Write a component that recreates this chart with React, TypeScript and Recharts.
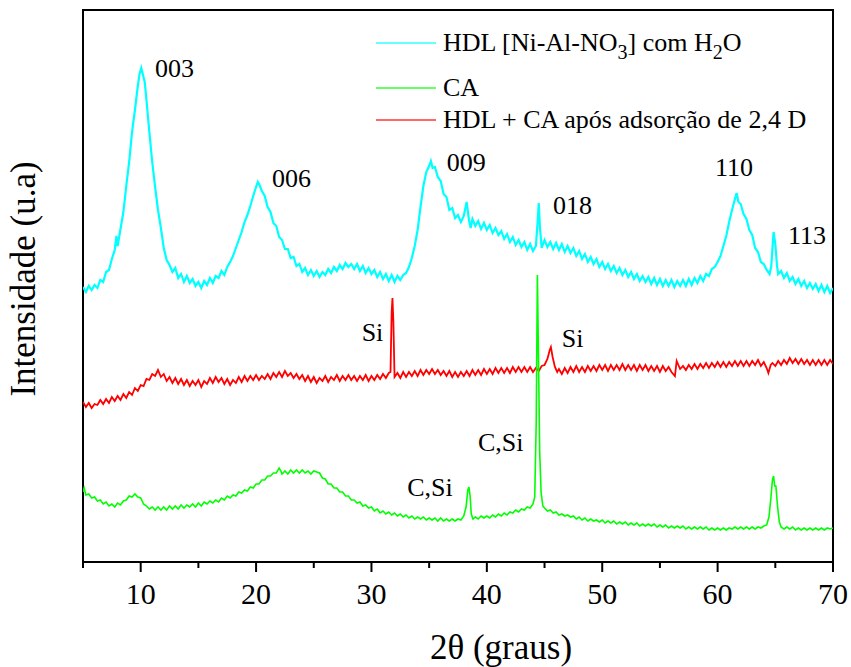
import React from 'react';
import { ComposedChart, Line, Scatter, XAxis, YAxis, ReferenceArea, Legend, Label } from 'recharts';

const FONT = '"Liberation Serif", "Times New Roman", serif';

// [2θ (graus), intensidade (u.a)]
const hdlPoints: [number, number][] = [
  [5.0, 275], [5.25, 270], [5.5, 276], [5.75, 272], [6.0, 277], [6.25, 274], [6.5, 282], [6.75, 280],
  [7.0, 290], [7.25, 292], [7.5, 303], [7.75, 312], [7.9, 326], [8.0, 316], [8.25, 333], [8.5, 350],
  [8.75, 376], [9.0, 400], [9.25, 430], [9.5, 452], [9.75, 476], [9.9, 488], [10.05, 494], [10.2, 487],
  [10.35, 480], [10.5, 462], [10.75, 430], [11.0, 400], [11.25, 375], [11.5, 352], [11.75, 334], [12.0, 314],
  [12.25, 302], [12.5, 297], [12.75, 290], [13.0, 294], [13.25, 284], [13.5, 288], [13.75, 280], [14.0, 286],
  [14.25, 279], [14.5, 283], [14.75, 276], [15.0, 280], [15.25, 274], [15.5, 281], [15.75, 277], [16.0, 284],
  [16.25, 279], [16.5, 286], [16.75, 284], [17.0, 291], [17.25, 287], [17.5, 295], [17.75, 300], [18.0, 306],
  [18.25, 314], [18.5, 322], [18.75, 330], [19.0, 340], [19.25, 347], [19.5, 356], [19.75, 366], [20.0, 375],
  [20.15, 380], [20.3, 377], [20.5, 371], [20.75, 366], [21.0, 355], [21.25, 350], [21.5, 339], [21.75, 336],
  [22.0, 325], [22.25, 322], [22.5, 313], [22.75, 313], [23.0, 304], [23.25, 305], [23.5, 296], [23.75, 298],
  [24.0, 290], [24.25, 294], [24.5, 287], [24.75, 292], [25.0, 286], [25.25, 291], [25.5, 285], [25.75, 290],
  [26.0, 287], [26.25, 293], [26.5, 289], [26.75, 295], [27.0, 291], [27.25, 297], [27.5, 293], [27.75, 299],
  [28.0, 295], [28.25, 298], [28.5, 293], [28.75, 298], [29.0, 291], [29.25, 296], [29.5, 289], [29.75, 294],
  [30.0, 288], [30.25, 292], [30.5, 285], [30.75, 290], [31.0, 283], [31.25, 288], [31.5, 281], [31.75, 287],
  [32.0, 280], [32.25, 286], [32.5, 282], [32.75, 287], [33.0, 289], [33.25, 295], [33.5, 304], [33.75, 316],
  [34.0, 332], [34.25, 355], [34.5, 376], [34.75, 390], [35.0, 396], [35.15, 401], [35.3, 394], [35.5, 395],
  [35.75, 385], [36.0, 381], [36.25, 368], [36.5, 365], [36.75, 352], [37.0, 354], [37.25, 344], [37.5, 347],
  [37.75, 340], [38.0, 346], [38.25, 360], [38.45, 342], [38.6, 334], [38.75, 343], [39.0, 336], [39.25, 341],
  [39.5, 333], [39.75, 339], [40.0, 332], [40.25, 337], [40.5, 329], [40.75, 334], [41.0, 327], [41.25, 331],
  [41.5, 323], [41.75, 328], [42.0, 320], [42.25, 325], [42.5, 317], [42.75, 322], [43.0, 315], [43.25, 320],
  [43.5, 312], [43.75, 318], [44.0, 311], [44.25, 316], [44.4, 340], [44.5, 359], [44.6, 335], [44.75, 314],
  [45.0, 322], [45.25, 315], [45.5, 320], [45.75, 313], [46.0, 319], [46.25, 312], [46.5, 318], [46.75, 310],
  [47.0, 316], [47.25, 309], [47.5, 314], [47.75, 306], [48.0, 311], [48.25, 303], [48.5, 308], [48.75, 300],
  [49.0, 305], [49.25, 298], [49.5, 303], [49.75, 295], [50.0, 300], [50.25, 293], [50.5, 298], [50.75, 291],
  [51.0, 296], [51.25, 289], [51.5, 294], [51.75, 287], [52.0, 292], [52.25, 285], [52.5, 290], [52.75, 283],
  [53.0, 288], [53.25, 281], [53.5, 286], [53.75, 280], [54.0, 285], [54.25, 278], [54.5, 284], [54.75, 277],
  [55.0, 283], [55.25, 276], [55.5, 282], [55.75, 276], [56.0, 282], [56.25, 275], [56.5, 281], [56.75, 276],
  [57.0, 282], [57.25, 276], [57.5, 283], [57.75, 277], [58.0, 284], [58.25, 279], [58.5, 286], [58.75, 281],
  [59.0, 288], [59.25, 286], [59.5, 293], [59.75, 295], [60.0, 300], [60.25, 306], [60.5, 316], [60.75, 326],
  [61.0, 340], [61.25, 352], [61.5, 363], [61.65, 369], [61.8, 360], [62.0, 358], [62.25, 348], [62.5, 343],
  [62.75, 332], [63.0, 327], [63.25, 314], [63.5, 310], [63.75, 300], [64.0, 298], [64.25, 292], [64.5, 288],
  [64.65, 296], [64.85, 330], [65.0, 318], [65.15, 296], [65.25, 288], [65.5, 291], [65.75, 284], [66.0, 289],
  [66.25, 281], [66.5, 285], [66.75, 278], [67.0, 283], [67.25, 276], [67.5, 281], [67.75, 274], [68.0, 279],
  [68.25, 273], [68.5, 278], [68.75, 271], [69.0, 277], [69.25, 270], [69.5, 276], [69.75, 269], [70.0, 274],
];

const caPoints: [number, number][] = [
  [5.0, 70], [5.1, 74], [5.25, 67], [5.5, 68], [5.75, 64], [6.0, 65], [6.25, 61], [6.5, 62],
  [6.75, 58], [7.0, 60], [7.25, 56], [7.5, 58], [7.75, 55], [8.0, 59], [8.25, 57], [8.5, 61],
  [8.75, 62], [9.0, 66], [9.25, 65], [9.5, 68], [9.75, 65], [10.0, 64], [10.25, 58], [10.5, 56],
  [10.75, 53], [11.0, 55], [11.25, 52], [11.5, 55], [11.75, 52], [12.0, 55], [12.25, 52], [12.5, 56],
  [12.75, 53], [13.0, 56], [13.25, 53], [13.5, 57], [13.75, 54], [14.0, 57], [14.25, 55], [14.5, 58],
  [14.75, 55], [15.0, 59], [15.25, 56], [15.5, 60], [15.75, 58], [16.0, 61], [16.25, 59], [16.5, 62],
  [16.75, 60], [17.0, 64], [17.25, 62], [17.5, 66], [17.75, 64], [18.0, 67], [18.25, 66], [18.5, 70],
  [18.75, 69], [19.0, 72], [19.25, 71], [19.5, 75], [19.75, 74], [20.0, 78], [20.25, 78], [20.5, 82],
  [20.75, 82], [21.0, 86], [21.25, 86], [21.5, 89], [21.75, 89], [22.0, 94], [22.15, 91], [22.25, 88],
  [22.5, 91], [22.75, 88], [23.0, 92], [23.25, 89], [23.5, 92], [23.75, 89], [24.0, 92], [24.25, 89],
  [24.5, 91], [24.75, 88], [25.0, 91], [25.25, 90], [25.5, 89], [25.75, 84], [26.0, 83], [26.25, 78],
  [26.5, 78], [26.75, 74], [27.0, 74], [27.25, 70], [27.5, 70], [27.75, 66], [28.0, 66], [28.25, 62],
  [28.5, 62], [28.75, 59], [29.0, 60], [29.25, 56], [29.5, 57], [29.75, 54], [30.0, 55], [30.25, 51],
  [30.5, 53], [30.75, 49], [31.0, 51], [31.25, 48], [31.5, 50], [31.75, 47], [32.0, 49], [32.25, 46],
  [32.5, 48], [32.75, 45], [33.0, 47], [33.25, 44], [33.5, 46], [33.75, 43], [34.0, 45], [34.25, 43],
  [34.5, 45], [34.75, 42], [35.0, 44], [35.25, 42], [35.5, 44], [35.75, 41], [36.0, 44], [36.25, 41],
  [36.5, 43], [36.75, 41], [37.0, 43], [37.25, 41], [37.5, 43], [37.75, 42], [38.0, 46], [38.2, 55],
  [38.35, 72], [38.45, 75], [38.55, 66], [38.65, 48], [38.8, 43], [39.0, 45], [39.25, 43], [39.5, 46],
  [39.75, 44], [40.0, 46], [40.25, 44], [40.5, 47], [40.75, 45], [41.0, 48], [41.25, 46], [41.5, 49],
  [41.75, 47], [42.0, 50], [42.25, 49], [42.5, 52], [42.75, 50], [43.0, 53], [43.25, 52], [43.5, 55],
  [43.75, 54], [44.0, 58], [44.15, 65], [44.28, 140], [44.38, 287], [44.48, 200], [44.58, 110], [44.7, 70],
  [44.85, 56], [45.0, 54], [45.25, 51], [45.5, 52], [45.75, 49], [46.0, 50], [46.25, 47], [46.5, 48],
  [46.75, 46], [47.0, 47], [47.25, 45], [47.5, 46], [47.75, 43], [48.0, 45], [48.25, 42], [48.5, 44],
  [48.75, 41], [49.0, 43], [49.25, 41], [49.5, 42], [49.75, 40], [50.0, 42], [50.25, 39], [50.5, 41],
  [50.75, 39], [51.0, 41], [51.25, 38], [51.5, 40], [51.75, 38], [52.0, 40], [52.25, 37], [52.5, 39],
  [52.75, 37], [53.0, 39], [53.25, 36], [53.5, 38], [53.75, 36], [54.0, 38], [54.25, 36], [54.5, 38],
  [54.75, 35], [55.0, 37], [55.25, 35], [55.5, 37], [55.75, 34], [56.0, 36], [56.25, 34], [56.5, 36],
  [56.75, 34], [57.0, 36], [57.25, 33], [57.5, 35], [57.75, 33], [58.0, 35], [58.25, 33], [58.5, 35],
  [58.75, 33], [59.0, 35], [59.25, 32], [59.5, 34], [59.75, 32], [60.0, 34], [60.25, 32], [60.5, 34],
  [60.75, 32], [61.0, 34], [61.25, 33], [61.5, 35], [61.75, 33], [62.0, 35], [62.25, 33], [62.5, 35],
  [62.75, 33], [63.0, 35], [63.25, 33], [63.5, 35], [63.75, 34], [64.0, 36], [64.25, 37], [64.45, 45],
  [64.6, 62], [64.75, 82], [64.85, 86], [64.95, 76], [65.05, 76], [65.2, 55], [65.35, 40], [65.5, 35],
  [65.75, 33], [66.0, 35], [66.25, 33], [66.5, 35], [66.75, 32], [67.0, 34], [67.25, 32], [67.5, 34],
  [67.75, 32], [68.0, 34], [68.25, 32], [68.5, 34], [68.75, 32], [69.0, 34], [69.25, 32], [69.5, 34],
  [69.75, 33], [70.0, 34],
];

const hdlCaPoints: [number, number][] = [
  [5.0, 160], [5.25, 155], [5.5, 159], [5.75, 154], [6.0, 158], [6.25, 157], [6.5, 162], [6.75, 158],
  [7.0, 163], [7.25, 159], [7.5, 165], [7.75, 161], [8.0, 166], [8.25, 162], [8.5, 168], [8.75, 164],
  [9.0, 170], [9.25, 167], [9.5, 174], [9.75, 171], [10.0, 177], [10.25, 176], [10.5, 183], [10.75, 182],
  [11.0, 188], [11.25, 186], [11.5, 192], [11.75, 185], [12.0, 188], [12.25, 181], [12.5, 185], [12.75, 179],
  [13.0, 184], [13.25, 178], [13.5, 183], [13.75, 177], [14.0, 182], [14.25, 176], [14.5, 181], [14.75, 177],
  [15.0, 182], [15.25, 175], [15.5, 181], [15.75, 178], [16.0, 184], [16.25, 179], [16.5, 185], [16.75, 180],
  [17.0, 184], [17.25, 178], [17.5, 183], [17.75, 177], [18.0, 182], [18.25, 179], [18.5, 185], [18.75, 180],
  [19.0, 186], [19.25, 181], [19.5, 186], [19.75, 182], [20.0, 187], [20.25, 182], [20.5, 186], [20.75, 183],
  [21.0, 188], [21.25, 183], [21.5, 189], [21.75, 185], [22.0, 190], [22.25, 185], [22.5, 191], [22.75, 186],
  [23.0, 189], [23.25, 184], [23.5, 188], [23.75, 183], [24.0, 187], [24.25, 181], [24.5, 186], [24.75, 180],
  [25.0, 185], [25.25, 179], [25.5, 184], [25.75, 181], [26.0, 186], [26.25, 180], [26.5, 185], [26.75, 182],
  [27.0, 187], [27.25, 181], [27.5, 186], [27.75, 182], [28.0, 187], [28.25, 182], [28.5, 186], [28.75, 181],
  [29.0, 186], [29.25, 182], [29.5, 187], [29.75, 181], [30.0, 186], [30.25, 182], [30.5, 187], [30.75, 183],
  [31.0, 188], [31.25, 184], [31.5, 189], [31.65, 190], [31.75, 250], [31.82, 264], [31.9, 240], [32.0, 185],
  [32.25, 189], [32.5, 184], [32.75, 190], [33.0, 185], [33.25, 190], [33.5, 186], [33.75, 191], [34.0, 186],
  [34.25, 192], [34.5, 187], [34.75, 192], [35.0, 188], [35.25, 193], [35.5, 188], [35.75, 192], [36.0, 187],
  [36.25, 191], [36.5, 186], [36.75, 191], [37.0, 185], [37.25, 190], [37.5, 185], [37.75, 190], [38.0, 186],
  [38.25, 191], [38.5, 186], [38.75, 192], [39.0, 187], [39.25, 192], [39.5, 187], [39.75, 193], [40.0, 188],
  [40.25, 193], [40.5, 188], [40.75, 194], [41.0, 189], [41.25, 194], [41.5, 189], [41.75, 194], [42.0, 189],
  [42.25, 195], [42.5, 190], [42.75, 195], [43.0, 190], [43.25, 195], [43.5, 190], [43.75, 195], [44.0, 190],
  [44.25, 194], [44.5, 191], [44.75, 196], [45.0, 197], [45.25, 203], [45.45, 212], [45.55, 215], [45.7, 205],
  [45.9, 195], [46.1, 190], [46.25, 193], [46.5, 188], [46.75, 194], [47.0, 189], [47.25, 195], [47.5, 190],
  [47.75, 196], [48.0, 190], [48.25, 195], [48.5, 190], [48.75, 196], [49.0, 191], [49.25, 196], [49.5, 191],
  [49.75, 197], [50.0, 192], [50.25, 197], [50.5, 191], [50.75, 197], [51.0, 192], [51.25, 197], [51.5, 192],
  [51.75, 198], [52.0, 192], [52.25, 197], [52.5, 192], [52.75, 197], [53.0, 191], [53.25, 197], [53.5, 192],
  [53.75, 197], [54.0, 191], [54.25, 196], [54.5, 191], [54.75, 196], [55.0, 190], [55.25, 196], [55.5, 191],
  [55.75, 195], [56.0, 190], [56.3, 186], [56.45, 201], [56.6, 197], [56.75, 193], [57.0, 196], [57.25, 192],
  [57.5, 197], [57.75, 193], [58.0, 198], [58.25, 193], [58.5, 198], [58.75, 194], [59.0, 199], [59.25, 194],
  [59.5, 199], [59.75, 195], [60.0, 200], [60.25, 195], [60.5, 200], [60.75, 195], [61.0, 200], [61.25, 196],
  [61.5, 201], [61.75, 196], [62.0, 201], [62.25, 196], [62.5, 201], [62.75, 196], [63.0, 201], [63.25, 197],
  [63.5, 202], [63.75, 196], [64.0, 200], [64.25, 194], [64.4, 189], [64.6, 197], [64.75, 199], [65.0, 196],
  [65.25, 201], [65.5, 197], [65.75, 202], [66.0, 198], [66.25, 204], [66.5, 199], [66.75, 203], [67.0, 198],
  [67.25, 203], [67.5, 198], [67.75, 202], [68.0, 197], [68.25, 202], [68.5, 197], [68.75, 202], [69.0, 197],
  [69.25, 202], [69.5, 197], [69.75, 202], [70.0, 198],
];

const xTicks = [5, 10, 15, 20, 25, 30, 35, 40, 45, 50, 55, 60, 65, 70];
const labelledTicks = [10, 20, 30, 40, 50, 60, 70];

// peak assignments: text, 2θ, intensity (left/baseline of the text)
const peakTexts = ['003', '006', '009', '018', '110', '113', 'Si', 'Si', 'C,Si', 'C,Si'];
const peakTheta = [11.24, 21.38, 36.52, 45.73, 59.77, 66.1, 29.15, 46.49, 33.1, 39.23];
const peakLevel = [485, 375, 391, 348, 386, 318, 221, 215, 66, 111];

const toRows = (pts: [number, number][]) => pts.map(([x, y]) => ({ x, y }));
const hdlData = toRows(hdlPoints);
const caData = toRows(caPoints);
const hdlCaData = toRows(hdlCaPoints);
const peakData = peakTexts.map((label, i) => ({ label, x: peakTheta[i], y: peakLevel[i] }));

const sub = (s: string) => (
  <span style={{ fontSize: 20, position: 'relative', top: 8 }}>{s}</span>
);

const legendItems = [
  { color: '#00ffff', label: <>HDL [Ni-Al-NO{sub('3')}] com H{sub('2')}O</>, top: 0 },
  { color: '#00ff00', label: <>CA</>, top: 45 },
  { color: '#ff0000', label: <>HDL + CA após adsorção de 2,4 D</>, top: 77 },
];

const renderLegend = () => (
  <div style={{ position: 'relative', width: 460, height: 112, fontFamily: FONT, fontSize: 26, color: '#000' }}>
    {legendItems.map((it, i) => (
      <div
        key={i}
        style={{ position: 'absolute', left: 0, top: it.top, height: 34, display: 'flex', alignItems: 'center', whiteSpace: 'nowrap' }}
      >
        <span style={{ display: 'inline-block', width: 60, height: 2, background: it.color, opacity: 0.6, marginRight: 7 }} />
        <span style={{ lineHeight: '34px' }}>{it.label}</span>
      </div>
    ))}
  </div>
);

const XTick = (props: any) => {
  const { x, y, payload } = props;
  const major = labelledTicks.includes(payload.value);
  return (
    <g>
      <line x1={x} x2={x} y1={y} y2={y + (major ? 10 : 6)} stroke="#000" strokeWidth={2} />
      {major && (
        <text x={x} y={y + 42} textAnchor="middle" fontFamily={FONT} fontSize={30} fill="#000">
          {payload.value}
        </text>
      )}
    </g>
  );
};

const PeakText = (props: any) => (
  <text x={props.cx} y={props.cy} fontFamily={FONT} fontSize={26} fill="#000">
    {props.payload.label}
  </text>
);

const XTitle = () => (
  <text x={501} y={659} textAnchor="middle" fontFamily={FONT} fontSize={35} fill="#000">
    2θ (graus)
  </text>
);

const YTitle = () => (
  <text x={35} y={279} transform="rotate(-90, 35, 279)" textAnchor="middle" fontFamily={FONT} fontSize={35} fill="#000">
    Intensidade (u.a)
  </text>
);

export default function App() {
  return (
    <div style={{ position: 'absolute', left: 0, top: 0, width: 851, height: 667, background: '#fff' }}>
      <ComposedChart width={851} height={667} margin={{ top: 10, right: 18, bottom: 45, left: 0 }}>
        <XAxis
          dataKey="x"
          type="number"
          domain={[5, 70]}
          ticks={xTicks}
          interval={0}
          allowDataOverflow
          tickSize={0}
          tickMargin={0}
          tickLine={false}
          tick={XTick}
          axisLine={{ stroke: '#000', strokeWidth: 2 }}
          height={60}
        >
          <Label content={XTitle} />
        </XAxis>
        <YAxis
          type="number"
          domain={[0, 552]}
          allowDataOverflow
          tick={false}
          tickLine={false}
          axisLine={false}
          width={83}
        >
          <Label content={YTitle} />
        </YAxis>
        <Legend
          content={renderLegend}
          layout="vertical"
          align="center"
          verticalAlign="middle"
          wrapperStyle={{ position: 'absolute', left: 376, top: 26, width: 460, height: 112 }}
        />
        <Line data={hdlData} dataKey="y" stroke="#00ffff" strokeWidth={2.2} dot={false} isAnimationActive={false} />
        <Line data={hdlCaData} dataKey="y" stroke="#ff0000" strokeWidth={1.8} dot={false} isAnimationActive={false} />
        <Line data={caData} dataKey="y" stroke="#00ff00" strokeWidth={1.6} dot={false} isAnimationActive={false} />
        <Scatter data={peakData} dataKey="y" shape={PeakText} isAnimationActive={false} legendType="none" />
        <ReferenceArea x1={5} x2={70} y1={0} y2={552} fill="none" stroke="#000" strokeWidth={2} ifOverflow="visible" />
      </ComposedChart>
    </div>
  );
}
